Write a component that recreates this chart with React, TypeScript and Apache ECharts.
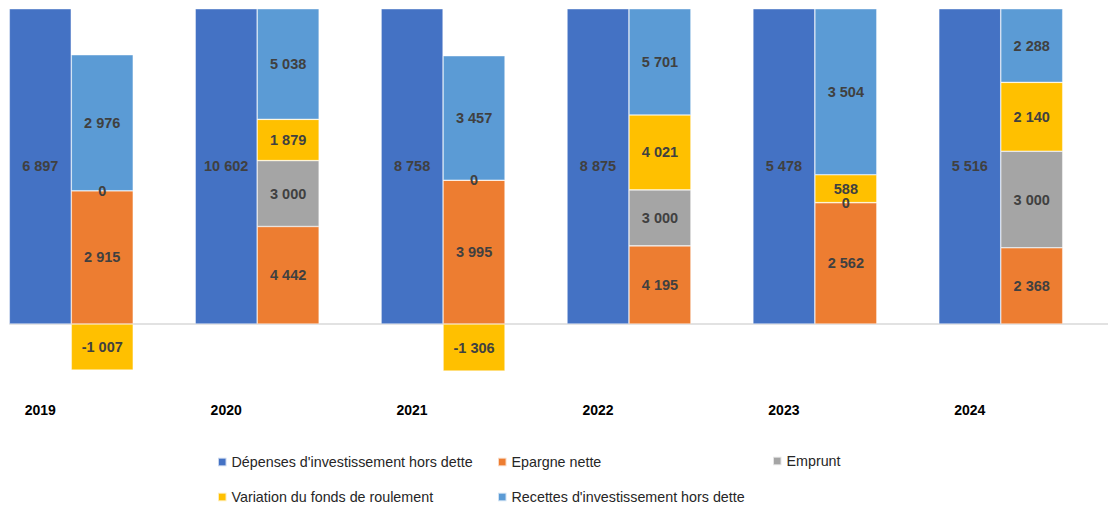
import React, { useEffect, useRef } from "react";
import * as echarts from "echarts";

const years = ["2019", "2020", "2021", "2022", "2023", "2024"];
const depenses = [6897, 10602, 8758, 8875, 5478, 5516];
const epargne = [2915, 4442, 3995, 4195, 2562, 2368];
const emprunt = [0, 3000, 0, 3000, 0, 3000];
const variation = [-1007, 1879, -1306, 4021, 588, 2140];
const recettes = [2976, 5038, 3457, 5701, 3504, 2288];

const names = [
  "Dépenses d'investissement hors dette",
  "Epargne nette",
  "Emprunt",
  "Variation du fonds de roulement",
  "Recettes d'investissement hors dette",
];
const colors = ["#4472C4", "#ED7D31", "#A5A5A5", "#FFC000", "#5B9BD5"];

const FONT = "'Liberation Sans', Arial, Helvetica, sans-serif";

function fmt(v: number): string {
  const s = Math.abs(v).toString().replace(/\B(?=(\d{3})+(?!\d))/g, " ");
  return (v < 0 ? "-" : "") + s;
}

export default function App() {
  const ref = useRef<HTMLDivElement>(null);
  useEffect(() => {
    if (!ref.current) return;
    const chart = echarts.init(ref.current, undefined, { renderer: "svg" });

    // categories: 3 slots per year (expenses, resources, blank)
    const cats: string[] = [];
    years.forEach((y) => cats.push(y, "", ""));

    // 100% stacked per column (Excel style: divided by sum of absolute values)
    const recSeries = [epargne, emprunt, variation, recettes];
    const buildRes = (arr: number[]) => {
      const out: any[] = [];
      years.forEach((_, i) => {
        const tot = recSeries.reduce((s, a) => s + Math.abs(a[i]), 0);
        out.push("-", { value: (arr[i] / tot) * 100, raw: arr[i] }, "-");
      });
      return out;
    };
    const depData: any[] = [];
    years.forEach((_, i) => depData.push({ value: 100, raw: depenses[i] }, "-", "-"));

    const label = {
      show: true,
      position: "inside",
      fontFamily: FONT,
      fontSize: 14.5,
      fontWeight: "bold",
      color: "#404040",
      formatter: (p: any) => (p.data && p.data.raw !== undefined ? fmt(p.data.raw) : ""),
    };

    const mk = (name: string, data: any[], color: string, extra: any = {}) => ({
      name,
      type: "bar",
      stack: "s",
      data,
      barCategoryGap: "0%",
      itemStyle: { color, borderColor: "rgba(255,255,255,0.7)", borderWidth: 0.6 },
      label,
      ...extra,
    });

    const series: any[] = [
      mk(names[0], depData, colors[0], {
        markLine: {
          silent: true,
          symbol: "none",
          label: { show: false },
          lineStyle: { color: "#d9d9d9", width: 1.6, type: "solid" },
          data: [{ yAxis: 0 }],
          z: 1,
        },
      }),
      mk(names[1], buildRes(epargne), colors[1]),
      mk(names[2], buildRes(emprunt), colors[2]),
      mk(names[3], buildRes(variation), colors[3]),
      mk(names[4], buildRes(recettes), colors[4]),
    ];

    const legendPos = [
      { left: 217, top: 455 },
      { left: 497, top: 455 },
      { left: 772, top: 454 },
      { left: 217, top: 490 },
      { left: 497, top: 490 },
    ];
    const legend = names.map((n, i) => ({
      data: [n],
      left: legendPos[i].left,
      top: legendPos[i].top,
      padding: 0,
      icon: "rect",
      itemWidth: 8.5,
      itemHeight: 8.5,
      textStyle: { fontFamily: FONT, fontSize: 14.3, color: "#262626" },
      selectedMode: false,
    }));

    chart.setOption({
      animation: false,
      color: colors,
      grid: { left: 9.3, top: 8.7, width: 1115.4, height: 378.4, containLabel: false },
      legend,
      xAxis: {
        type: "category",
        data: cats,
        axisLine: { show: false },
        axisTick: { show: false },
        axisLabel: {
          interval: 0,
          margin: 16,
          fontFamily: FONT,
          fontSize: 14,
          fontWeight: "bold",
          color: "#000",
        },
      },
      yAxis: {
        type: "value",
        min: -20,
        max: 100,
        show: false,
        splitLine: { show: false },
      },
      series,
    });
    return () => chart.dispose();
  }, []);
  return (
    <div
      style={{
        position: "fixed",
        left: 0,
        top: 0,
        width: 1108,
        height: 507,
        overflow: "hidden",
        background: "#fff",
      }}
    >
      <div ref={ref} style={{ width: 1140, height: 507 }} />
    </div>
  );
}
